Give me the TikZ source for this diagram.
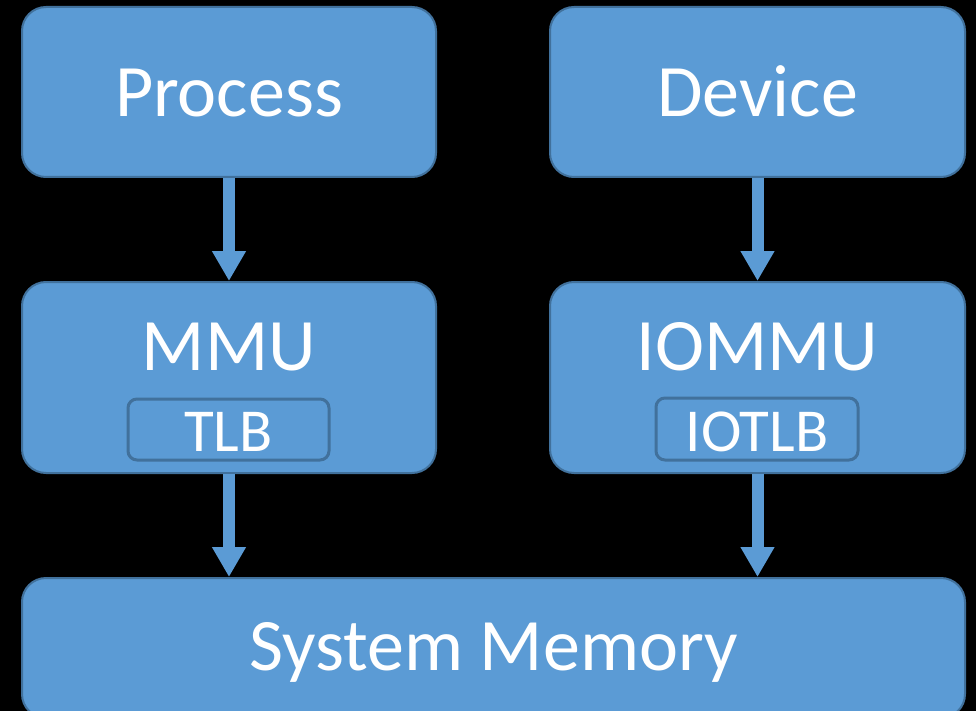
\documentclass[tikz,border=0pt]{standalone}
\usepackage{fontspec}
\setmainfont{Carlito}
\usetikzlibrary{arrows.meta}
\definecolor{boxfill}{HTML}{5B9BD5}
\definecolor{boxline}{HTML}{41719C}
\begin{document}
\begin{tikzpicture}[x=1pt,y=1pt,
  bigbox/.style={draw=boxline,line width=2pt,fill=boxfill,rounded corners=24pt,inner sep=0pt},
  smallbox/.style={draw=boxline,line width=3pt,fill=boxfill,rounded corners=9pt,inner sep=0pt},
  bigtxt/.style={text=white,font=\fontsize{74}{74}\selectfont,anchor=base,inner sep=0pt},
  smalltxt/.style={text=white,font=\fontsize{61}{61}\selectfont,anchor=base,inner sep=0pt},
  flow/.style={draw=boxfill,line width=12pt,-{Triangle[width=32pt,length=30pt]}}]
\fill[black] (0,0) rectangle (976,-711);
\useasboundingbox (0,0) rectangle (976,-711);
\node[bigbox,minimum width=414pt,minimum height=170pt] (proc) at (229,-92) {};
\node[bigbox,minimum width=415pt,minimum height=170pt] (dev) at (757.5,-92) {};
\node[bigbox,minimum width=414pt,minimum height=191pt] (mmu) at (229,-377.5) {};
\node[bigbox,minimum width=415pt,minimum height=191pt] (iommu) at (757.5,-377.5) {};
\node[bigbox,minimum width=943pt,minimum height=140pt] (mem) at (493.5,-648) {};
\node[smallbox,minimum width=201pt,minimum height=61pt] (tlb) at (228.5,-429.5) {};
\node[smallbox,minimum width=202pt,minimum height=62pt] (iotlb) at (757,-429) {};
\node[bigtxt] (tproc) at (229,-117) {Process};
\node[bigtxt] (tdev) at (757.5,-117) {Device};
\node[bigtxt] (tmmu) at (229,-370) {MMU};
\node[bigtxt] (tiommu) at (757.5,-370) {IOMMU};
\node[bigtxt] (tmem) at (493.5,-670) {System Memory};
\node[smalltxt] (ttlb) at (228.5,-451) {TLB};
\node[smalltxt] (tiotlb) at (757,-451) {IOTLB};
\draw[flow] (proc.south) -- (mmu.north);
\draw[flow] (dev.south) -- (iommu.north);
\draw[flow] (mmu.south) -- (mmu.south |- mem.north);
\draw[flow] (iommu.south) -- (iommu.south |- mem.north);
\end{tikzpicture}
\end{document}
